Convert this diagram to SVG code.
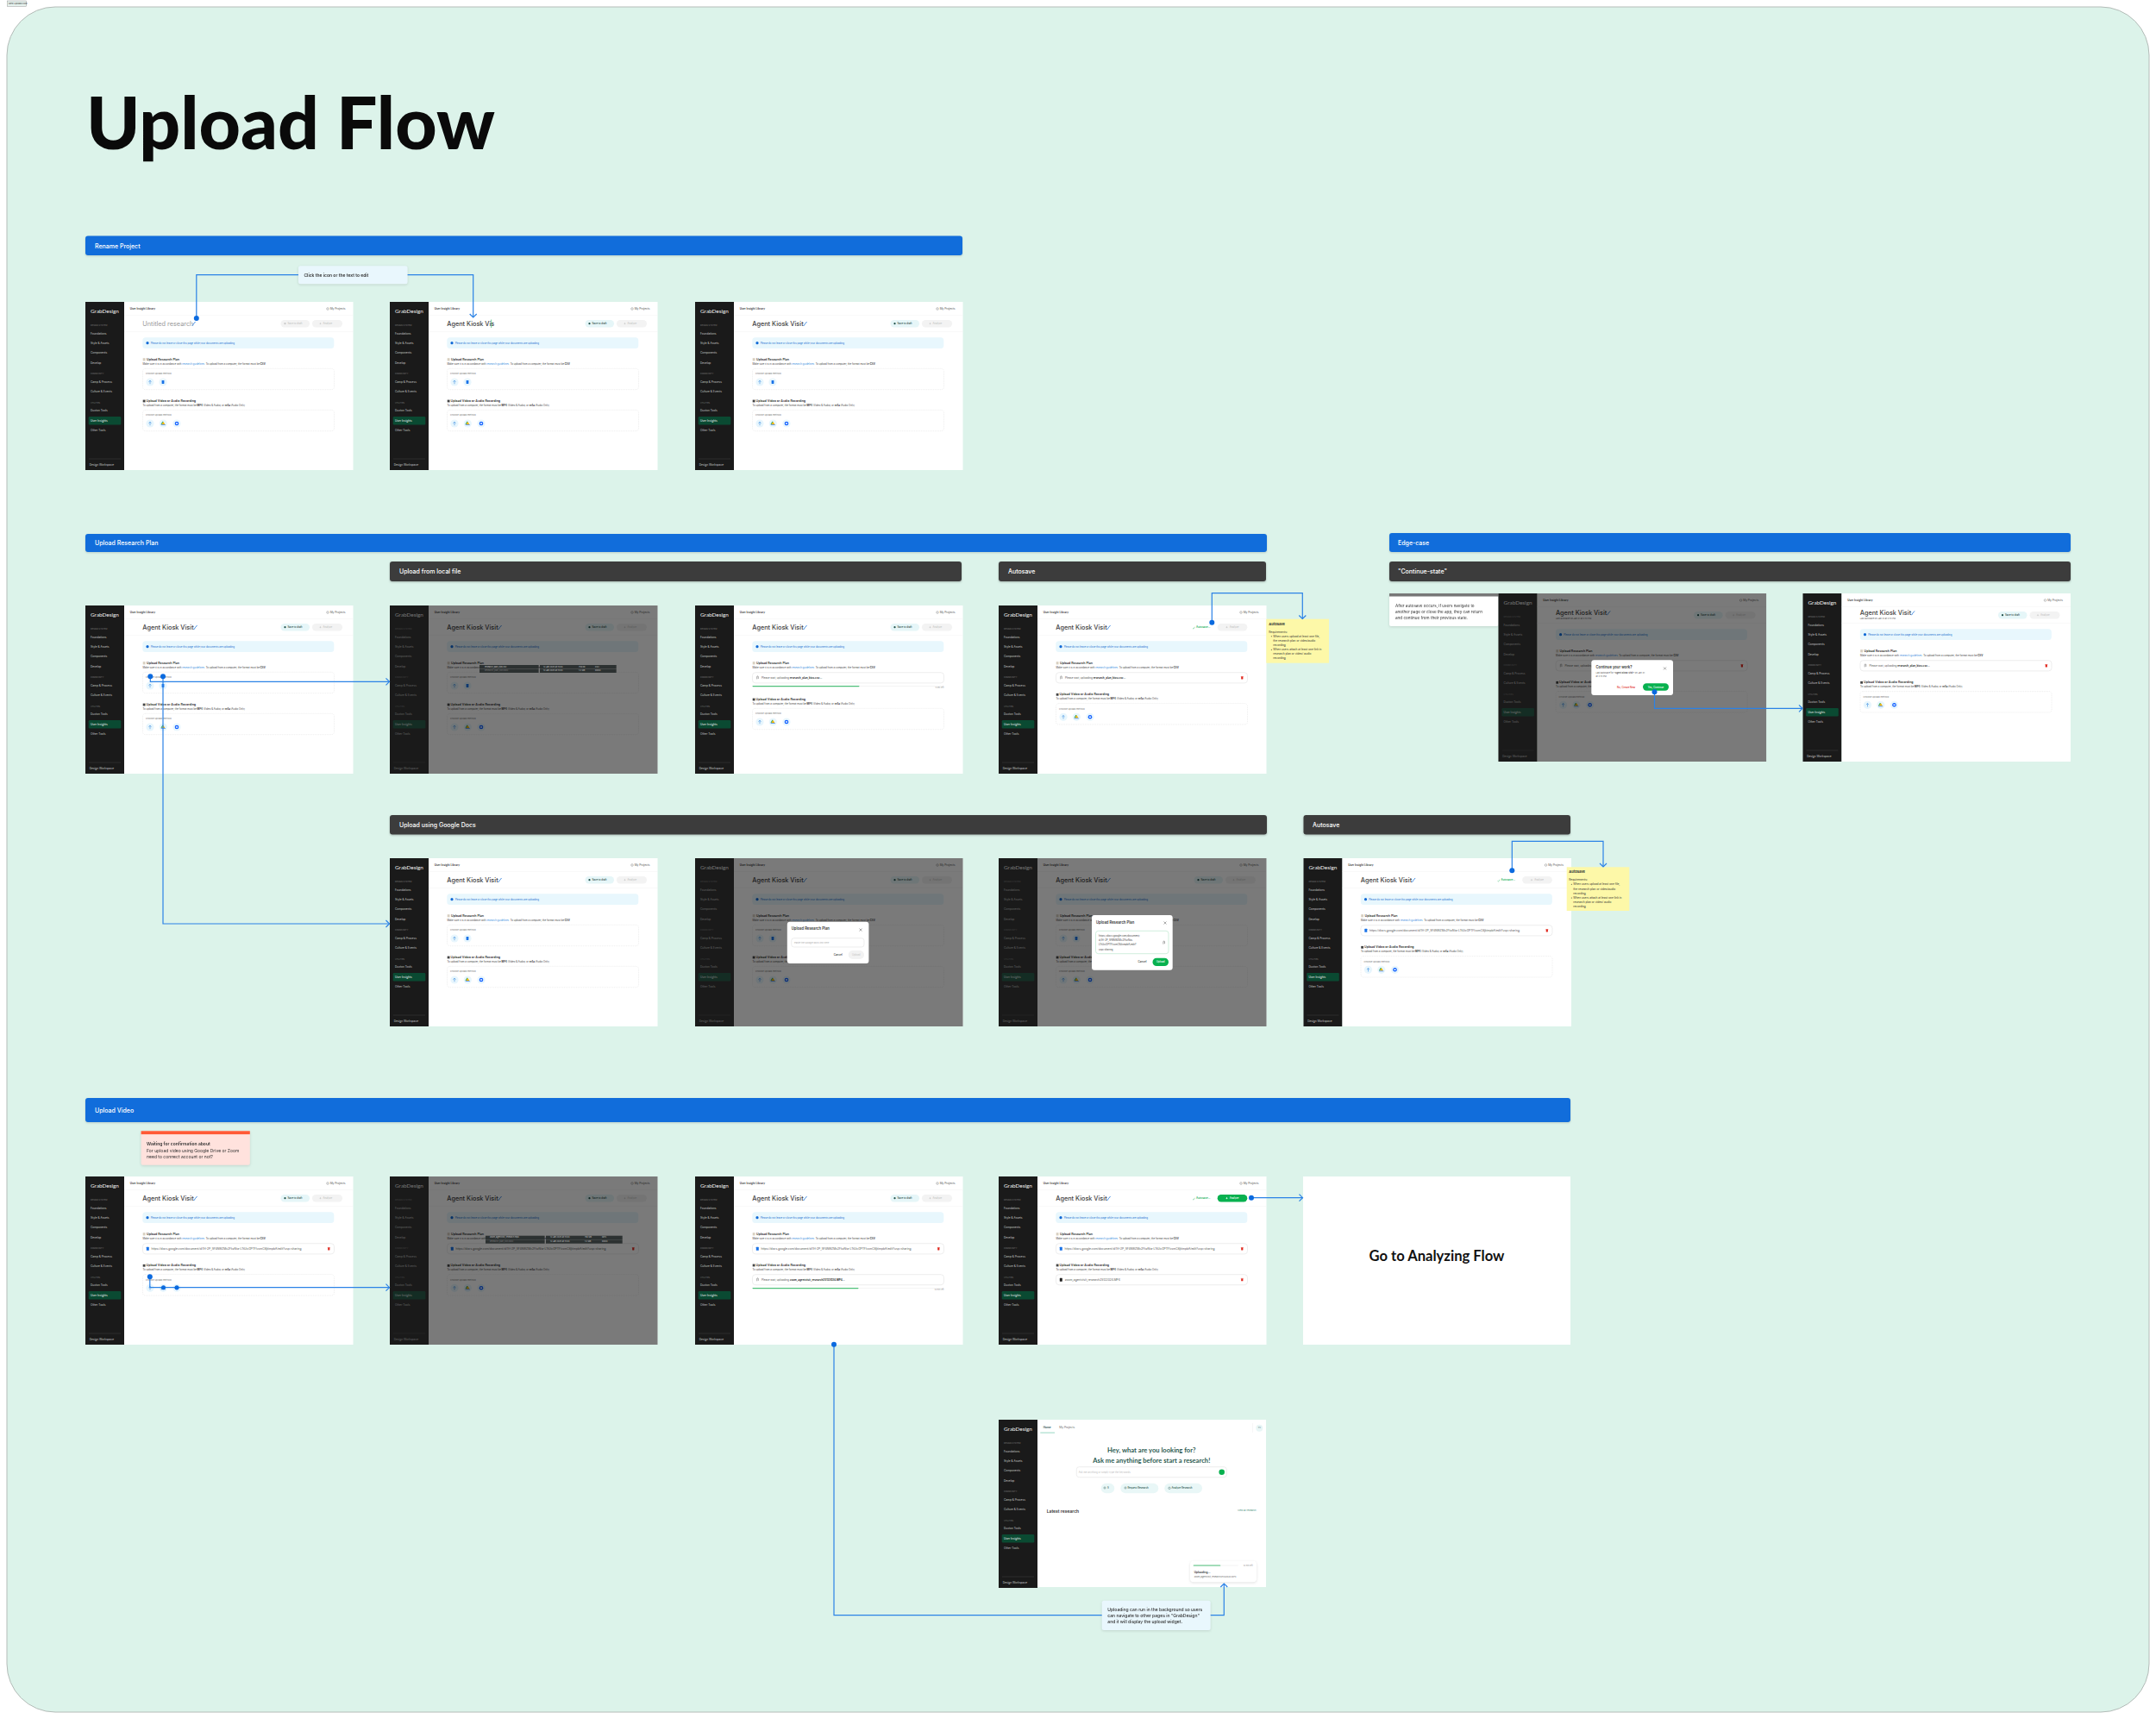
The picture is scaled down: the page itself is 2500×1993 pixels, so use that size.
<svg xmlns="http://www.w3.org/2000/svg" width="2500" height="1993" viewBox="0 0 2500 1993">
<style>
text{font-family:Inter,"Liberation Sans",sans-serif;dominant-baseline:central;fill:#333}
.br{font-family:Lato,"Noto Sans",sans-serif}
.barb{fill:#116ddb;filter:drop-shadow(0 1px 1px rgba(0,0,0,.15))}
.bard{fill:#3c3c3c;filter:drop-shadow(0 1px 1px rgba(0,0,0,.25))}
.bt{fill:#fff;font-size:7px;font-weight:500}
.sb{font-size:3.2px;fill:#c8c8c8}
.sh{font-size:2.4px;fill:#777}
.h{font-size:3.6px;font-weight:600}
.s{font-size:2.8px;fill:#444}
.b{font-weight:700}
.lnk{fill:#3b8de0}
.g{fill:#777;font-size:2.7px}
.dash{fill:#fff;stroke:#e0e0e0;stroke-width:.5;stroke-dasharray:1.2 .8}
.box{fill:#fff;stroke:#e6e6e6;stroke-width:.7}
.pl{font-size:2.8px;font-weight:500}
.con{fill:none;stroke:#2b82e6;stroke-width:1.2}
.modalt{font-size:4.2px;font-weight:600}
.pk{font-size:2.3px;fill:#c8c8c8}
.note{font-size:3.2px;fill:#333}
.card{filter:drop-shadow(0 1px 1.5px rgba(0,0,0,.12))}
</style>
<defs>
<marker id="dot" markerUnits="userSpaceOnUse" markerWidth="8" markerHeight="8" refX="4" refY="4"><circle cx="4" cy="4" r="3" fill="#0b6adf"/></marker>
<marker id="arr" markerUnits="userSpaceOnUse" markerWidth="10" markerHeight="10" refX="7" refY="5" orient="auto"><path d="M3 1L7 5L3 9" fill="none" stroke="#2b82e6" stroke-width="1.2"/></marker>
<g id="iUp"><circle r="4.6" fill="#e8f6fd"/><path d="M0 2.2V-1.8M-1.6 -.3L0 -1.8L1.6 -.3" fill="none" stroke="#3b8de0" stroke-width=".6"/></g>
<g id="iDoc"><circle r="4.6" fill="#e8f6fd"/><rect x="-1.4" y="-2" width="2.8" height="4" rx=".4" fill="#1a73e8"/></g>
<g id="iDrv"><circle r="4.6" fill="#e8f6fd"/><path d="M0 -2.2L2.2 1.2H-2.2Z" fill="#f4b400"/><path d="M-2.2 1.2L0 -2.2L-1 -2.2L-2.8 1Z" fill="#0f9d58"/><path d="M-2.2 1.2H2.2L2.8 2H-2.8Z" fill="#4285f4"/></g>
<g id="iZm"><circle r="4.6" fill="#e8f6fd"/><circle r="2.3" fill="#0b5cff"/><rect x="-1.1" y="-.7" width="2.2" height="1.4" fill="#fff"/></g>
<path id="iPen" d="M0 3.2L1.2 1.2L3.6 -1.6" fill="none" stroke="#4a90e2" stroke-width="1"/>
<g id="iTr"><rect x="-1.1" y="-1.3" width="2.2" height="2.9" rx=".3" fill="#e0261c"/><rect x="-1.5" y="-1.8" width="3" height=".5" fill="#e0261c"/></g>
<path id="iClip" d="M-.6 1.6V-1.1A.8 .8 0 0 1 1 -1.1V1.2" fill="none" stroke="#555" stroke-width=".5"/>
<g id="iStar"><path d="M0 -1.4L.4 -.4L1.4 0L.4 .4L0 1.4L-.4 .4L-1.4 0L-.4 -.4Z"/></g>
<g id="sb">
<rect width="45" height="195" fill="#1a1a1a"/>
<text class="br" x="6" y="10.7" style="font-size:6.4px;fill:#eee">GrabDesign</text>
<text class="sh" x="6" y="27.7">DESIGN SYSTEM</text>
<text class="sb" x="6" y="37">Foundations</text>
<text class="sb" x="6" y="48">Style &amp; Assets</text>
<text class="sb" x="6" y="59.3">Components</text>
<text class="sb" x="6" y="70.7">Develop</text>
<text class="sh" x="6" y="83.7">COMMUNITY</text>
<text class="sb" x="6" y="93">Camp &amp; Process</text>
<text class="sb" x="6" y="104">Culture &amp; Events</text>
<text class="sh" x="6" y="117.3">UTILITIES</text>
<text class="sb" x="6" y="126.3">Duxton Tools</text>
<rect x="3.7" y="133" width="37.6" height="9.4" rx="1.2" fill="#0a4a32"/>
<text class="sb" x="6" y="137.7" style="fill:#eee">User Insights</text>
<text class="sb" x="6" y="149">Other Tools</text>
<rect x="4" y="181.6" width="37" height=".8" fill="#333"/>
<text class="sb" x="4.7" y="188.7">Design Workspace</text>
</g>
<g id="hdr">
<rect x="45" width="265.5" height="195" fill="#fff"/>
<text x="51.7" y="8" style="font-size:3.1px;font-weight:600">User Insight Library</text>
<circle cx="281" cy="8" r="1.3" fill="none" stroke="#666" stroke-width=".4"/>
<text x="283.7" y="8" style="font-size:3.2px;fill:#555">My Projects</text>
<rect x="45" y="15.5" width="265.5" height=".4" fill="#f0f0f0"/>
</g>
<g id="body">
<rect x="45" y="34.5" width="265.5" height=".4" fill="#f0f0f0"/>
<rect x="66.3" y="41.3" width="222" height="12.7" rx="3.5" fill="#e8f7fd"/>
<circle cx="72" cy="47.7" r="1.6" fill="#1069d6"/>
<text x="75.7" y="47.7" style="font-size:2.75px;fill:#1a6fd0">Please do not leave or close this page while your documents are uploading.</text>
<rect x="66.7" y="65.2" width="2.8" height="3.2" fill="#d8cfc0"/>
<text class="h" x="71" y="66.7">Upload Research Plan</text>
<text class="s" x="66.5" y="72">Make sure it is in accordance with <tspan class="lnk">research guidelines</tspan>. To upload from a computer, the format must be <tspan class="b">CSV</tspan></text>
</g>
<g id="main"><use href="#sb"/><use href="#hdr"/><use href="#body"/></g>
<g id="ttl"><text x="66.3" y="25.3" style="font-size:7.3px;font-weight:500;fill:#444">Agent Kiosk Visit</text><use href="#iPen" x="126" y="24.6"/></g>
<g id="bSave"><rect x="226.5" y="21" width="33.5" height="8.4" rx="4.2" fill="#e6f6f8"/><circle cx="231.5" cy="25.2" r="1.1" fill="#1f4f48"/><text class="pl" x="234.5" y="25.2" style="fill:#1f3f3a">Save to draft</text></g>
<g id="bAn"><rect x="263" y="21" width="35" height="8.4" rx="4.2" fill="#f3f3f3"/><use href="#iStar" x="272.5" y="25.2" fill="#c8c8c8"/><text class="pl" x="275.5" y="25.2" style="fill:#c4c4c4">Analyze</text></g>
<g id="bAuto"><path d="M225 26.3L226 27.2L227.4 24.8" fill="none" stroke="#4fc07a" stroke-width=".5"/><text x="229" y="25.3" style="font-size:3px;font-weight:600;fill:#18b05a">Autosave...</text></g>
<g id="bAuA"><use href="#bAuto"/><rect x="253.7" y="21" width="34.6" height="8.4" rx="4.2" fill="#f3f3f3"/><use href="#iStar" x="264.5" y="25.2" fill="#c8c8c8"/><text class="pl" x="267.7" y="25.2" style="fill:#c4c4c4">Analyze</text></g>
<g id="rE"><rect class="dash" x="66.5" y="77.3" width="222" height="24.4" rx="3"/><text class="g" x="70" y="83">Choose upload method</text><use href="#iUp" x="75" y="93"/><use href="#iDoc" x="90" y="93"/></g>
<g id="vH"><rect x="66.7" y="113.6" width="2.8" height="2.8" fill="#444"/><text class="h" x="70.5" y="115">Upload Video or Audio Recording</text><text class="s" x="66.5" y="120.2">To upload from a computer, the format must be <tspan class="b">MP4</tspan> (Video &amp; Audio) or <tspan class="b">m4a</tspan> (Audio Only)</text></g>
<g id="vE"><use href="#vH"/><rect class="dash" x="66.5" y="125.3" width="222" height="24.4" rx="3"/><text class="g" x="70" y="131.3">Choose upload method</text><use href="#iUp" x="75" y="141"/><use href="#iDrv" x="90.3" y="141"/><use href="#iZm" x="106" y="141"/></g>
<g id="fUp"><rect class="box" x="66.5" y="77.7" width="222" height="12.2" rx="3.5"/><use href="#iClip" x="72.3" y="83.8"/><text x="77" y="83.8" style="font-size:3px;fill:#555">Please wait, uploading <tspan class="b" style="fill:#333">research_plan_kios.csv...</tspan></text></g>
<g id="fDoc"><rect class="box" x="66.5" y="77.7" width="222" height="12.2" rx="3.5"/><rect x="70.8" y="81.8" width="3" height="4" rx=".4" fill="#1a73e8"/><text x="76.5" y="83.8" style="font-size:3.3px;fill:#555">https://docs.google.com/document/d/1H-2P_SF8N9lZMc2FkzNta-LTtUicGPTFIvxmC6jkimpbA/edit?usp=sharing</text><use href="#iTr" x="282.3" y="83.8"/></g>
<g id="dimo"><rect x="45" width="265.5" height="195" fill="#000" opacity=".52"/><rect width="45" height="195" fill="#1a1a1a" opacity=".6"/></g>
<g id="base"><use href="#main"/><use href="#ttl"/><use href="#bSave"/><use href="#bAn"/><use href="#rE"/><use href="#vE"/></g>
<g id="auF"><use href="#main"/><use href="#ttl"/><use href="#bAuA"/><use href="#fUp"/><use href="#iTr" x="282.3" y="83.8"/><use href="#vE" y="-11.7"/></g>
<g id="doc"><use href="#main"/><use href="#ttl"/><use href="#fDoc"/></g>
<g id="yn"><text class="note" x="0" y="0" style="font-size:4px;font-weight:700">Autosave</text><text class="note" x="0" y="9.4">Requirements:</text><circle cx="3" cy="14.4" r=".5" fill="#333"/><text class="note" x="5" y="14.4">When users upload at least one file,</text><text class="note" x="5" y="19.7">the research plan or video/audio</text><text class="note" x="5" y="24.7">recording</text><circle cx="3" cy="30" r=".5" fill="#333"/><text class="note" x="5" y="30">When users attach at least one link in</text><text class="note" x="5" y="35">research plan or video/ audio</text><text class="note" x="5" y="40">recording</text></g>
<g id="pk1"><rect x="104" y="69" width="68.6" height="4.4" fill="#2c3131"/><rect x="174" y="69" width="88.7" height="4.4" fill="#2c3131"/><rect x="104" y="73.6" width="68.6" height="4.4" fill="#2c3131"/><rect x="174" y="73.6" width="88.7" height="4.4" fill="#2c3131"/><text class="pk" x="110" y="71.2">research_plan_kios.csv</text><text class="pk" x="178" y="71.2">12 Jan 2025 at 15:04</text><text class="pk" x="219" y="71.2">750 kb</text><text class="pk" x="238" y="71.2">CSV</text><text class="pk" x="110" y="75.8" style="fill:#777">Research_plan_kios.docx</text><text class="pk" x="178" y="75.8">12 Jan 2025 at 15:04</text><text class="pk" x="219" y="75.8">1.2 MB</text><text class="pk" x="238" y="75.8">DOCX</text></g>
<g id="pk2"><rect x="111" y="68.7" width="68.6" height="4.4" fill="#2c3131"/><rect x="181" y="68.7" width="88.7" height="4.4" fill="#2c3131"/><rect x="111" y="73.3" width="68.6" height="4.4" fill="#2c3131"/><rect x="181" y="73.3" width="88.7" height="4.4" fill="#2c3131"/><text class="pk" x="116" y="70.9">zoom_agentvisit_research.mp4</text><text class="pk" x="186" y="70.9">12 Jan 2025 at 15:04</text><text class="pk" x="226" y="70.9">150 MB</text><text class="pk" x="246" y="70.9">MP4</text><text class="pk" x="116" y="75.5" style="fill:#777">Research_plan_kios.docx</text><text class="pk" x="186" y="75.5">12 Jan 2025 at 15:04</text><text class="pk" x="226" y="75.5">1.2 MB</text><text class="pk" x="246" y="75.5">DOCX</text></g>
<g id="cont"><use href="#sb"/><use href="#hdr"/><use href="#body"/><text x="66.3" y="22.7" style="font-size:7.3px;font-weight:500;fill:#444">Agent Kiosk Visit</text><use href="#iPen" x="126" y="22"/><text x="66.3" y="29.7" style="font-size:2.5px;fill:#555">Last autosave on Jan 31 at 3:51 PM</text><use href="#bSave"/><use href="#bAn"/><use href="#fUp"/><use href="#iTr" x="282.3" y="83.8"/><use href="#vE" y="-11.7"/></g>
</defs>

<rect x="8" y="8" width="2484" height="1977" rx="56" fill="#dcf3ea" stroke="#b4bcb8" stroke-width="1"/>
<g id="page-label"><rect x="8.3" y="1" width="22.4" height="6.3" fill="#e6f2ee" stroke="#999" stroke-width=".5"/><text x="10" y="4.2" style="font-size:2.6px">New Upload Flow</text></g>
<text class="br" id="title" x="100" y="140" style="font-size:84px;font-weight:900;fill:#0a0a0a">Upload Flow</text>

<g id="bars">
<rect class="barb" x="99" y="273.500" width="1017" height="22.500" rx="3"/><text class="bt" x="110" y="285">Rename Project</text>
<rect class="barb" x="99" y="619" width="1370" height="21" rx="3"/><text class="bt" x="110" y="629.500">Upload Research Plan</text>
<rect class="barb" x="1611" y="618" width="790" height="22" rx="3"/><text class="bt" x="1621" y="629.500">Edge-case</text>
<rect class="bard" x="452" y="651" width="663" height="23" rx="3"/><text class="bt" x="463" y="662.500">Upload from local file</text>
<rect class="bard" x="1158" y="651" width="310" height="23" rx="3"/><text class="bt" x="1169" y="662.500">Autosave</text>
<rect class="bard" x="1611" y="651" width="790" height="23" rx="3"/><text class="bt" x="1621" y="662.500">"Continue-state"</text>
<rect class="bard" x="452" y="945" width="1017" height="22.500" rx="3"/><text class="bt" x="463" y="956">Upload using Google Docs</text>
<rect class="bard" x="1511.500" y="945" width="309.500" height="22.500" rx="3"/><text class="bt" x="1522" y="956">Autosave</text>
<rect class="barb" x="99" y="1273" width="1722" height="28" rx="3"/><text class="bt" x="110" y="1287.500">Upload Video</text>
</g>

<g id="f-rename-1" transform="translate(99 350)"><use href="#main"/><text x="66.3" y="25.3" style="font-size:7.3px;font-weight:400;fill:#999">Untitled research</text><use href="#iPen" x="124" y="24.6"/><rect x="226.500" y="21" width="33.500" height="8.400" rx="4.200" fill="#f3f3f3"/><circle cx="231.5" cy="25.2" r="1.1" fill="#c8c8c8"/><text class="pl" x="234.500" y="25.2" style="fill:#c4c4c4">Save to draft</text><use href="#bAn"/><use href="#rE"/><use href="#vE"/></g>
<g id="f-rename-2" transform="translate(452 350)"><use href="#main"/><text x="66.3" y="25.3" style="font-size:7.3px;font-weight:500;fill:#444">Agent Kiosk Vis</text><rect x="117.5" y="20.5" width=".6" height="9.500" fill="#18b05a"/><use href="#bSave"/><use href="#bAn"/><use href="#rE"/><use href="#vE"/></g>
<g id="f-rename-3" transform="translate(806 350)"><use href="#base"/></g>

<g id="f-plan-start" transform="translate(99 702)"><use href="#base"/></g>
<g id="f-plan-pick" transform="translate(452 702)"><use href="#base"/><use href="#dimo"/><use href="#pk1"/></g>
<g id="f-plan-upload" transform="translate(806 702)"><use href="#main"/><use href="#ttl"/><use href="#bSave"/><use href="#bAn"/><use href="#fUp"/><rect x="66.5" y="93.300" width="222" height=".7" fill="#f0f0f0"/><rect x="66.5" y="93" width="124" height="1.200" rx=".6" fill="#4fc07a"/><text class="g" x="288.500" y="95.500" text-anchor="end" style="font-size:2.3px;fill:#999">5 sec left</text><use href="#vE" y="-6"/></g>
<g id="f-plan-auto" transform="translate(1158 702)"><use href="#auF"/></g>
<g id="note-auto-1" transform="translate(1468.300 717.700)"><rect width="72.700" height="51" fill="#fdf8a8"/><use href="#yn" x="3" y="5.600"/></g>

<g id="note-continue" class="card" transform="translate(1611 688)"><rect width="126.600" height="38" rx="2" fill="#fff"/><rect width="126.600" height="3.500" fill="#777"/><text x="7" y="14.300" style="font-size:4.600px">After autosave occurs, if users navigate to</text><text x="7" y="21.300" style="font-size:4.600px">another page or close the app, they can return</text><text x="7" y="28" style="font-size:4.600px">and continue from their previous state.</text></g>
<g id="f-cont-modal" transform="translate(1737.600 688)"><use href="#cont"/><use href="#dimo"/><g transform="translate(-1737.600 -688)"><rect x="1845.300" y="765.300" width="94.700" height="40.700" rx="3" fill="#fff"/><text class="modalt" x="1850.500" y="773.700">Continue your work?</text><path d="M1929 773.500l3 3m0 -3l-3 3" stroke="#555" stroke-width=".5"/><text x="1850.500" y="780.300" style="font-size:2.500px;fill:#555">Last autosave for <tspan class="b">"Agent Kiosk Visit"</tspan> on Jan 31</text><text x="1850.500" y="784.700" style="font-size:2.500px;fill:#555">at 3:51 PM</text><text x="1885.600" y="796.700" text-anchor="middle" style="font-size:2.800px;font-weight:500;fill:#e0261c">No, Create New</text><rect x="1905" y="792.300" width="30" height="8.400" rx="4.200" fill="#08b14f"/><text x="1920" y="796.500" text-anchor="middle" style="font-size:2.800px;font-weight:500;fill:#fff">Yes, Continue</text></g></g>
<g id="f-cont-done" transform="translate(2090.500 688)"><use href="#cont"/></g>

<g id="f-docs-start" transform="translate(452 995)"><use href="#base"/></g>
<g id="f-docs-empty" transform="translate(806 995)"><use href="#base"/><use href="#dimo"/><g transform="translate(-806 -995)"><rect x="912.800" y="1068.700" width="94.600" height="48.300" rx="3" fill="#fff"/><text class="modalt" x="917.700" y="1076.700">Upload Research Plan</text><path d="M996.500 1076.500l3 3m0 -3l-3 3" stroke="#555" stroke-width=".5"/><rect class="box" x="917.700" y="1087.700" width="84.300" height="10.300" rx="3"/><text x="921" y="1093" style="font-size:2.700px;fill:#aaa">Paste the Google docs link here</text><text x="971.700" y="1107" text-anchor="middle" style="font-size:3px;font-weight:500">Cancel</text><rect x="983.700" y="1102" width="18.300" height="10" rx="5" fill="#f2f2f2"/><text x="992.800" y="1107" text-anchor="middle" style="font-size:2.800px;fill:#c4c4c4">Upload</text></g></g>
<g id="f-docs-link" transform="translate(1158 995)"><use href="#base"/><use href="#dimo"/><g transform="translate(-1158 -995)"><rect x="1266" y="1061" width="93.700" height="63.700" rx="3" fill="#fff"/><text class="modalt" x="1271" y="1069.300">Upload Research Plan</text><path d="M1349.500 1068.500l3 3m0 -3l-3 3" stroke="#555" stroke-width=".5"/><rect x="1270.500" y="1079.300" width="84.500" height="26.400" rx="3" fill="#fff" stroke="#bde8cf" stroke-width=".7"/><text x="1274" y="1085" style="font-size:2.800px;fill:#444">https://docs.google.com/document/</text><text x="1274" y="1090.300" style="font-size:2.800px;fill:#444">d/1H-2P_SF8N9lZMc2FkzNta-</text><text x="1274" y="1095.300" style="font-size:2.800px;fill:#444">LTtUicGPTFIvxmC6jkimpbA/edit?</text><text x="1274" y="1100.700" style="font-size:2.800px;fill:#444">usp=sharing</text><use href="#iClip" x="1349.500" y="1093"/><text x="1324.500" y="1115.300" text-anchor="middle" style="font-size:3px;font-weight:500">Cancel</text><rect x="1336.500" y="1110.700" width="18.500" height="9.300" rx="4.600" fill="#08b14f"/><text x="1345.700" y="1115.300" text-anchor="middle" style="font-size:2.800px;font-weight:500;fill:#fff">Upload</text></g></g>
<g id="f-docs-auto" transform="translate(1511.500 995)"><use href="#doc"/><use href="#bAuA"/><use href="#vE" y="-11.7"/></g>
<g id="note-auto-2" transform="translate(1816.700 1005.300)"><rect width="72.600" height="50.700" fill="#fdf8a8"/><use href="#yn" x="2.600" y="5.600"/></g>

<g id="note-wait" class="card" transform="translate(163.600 1311.300)"><rect width="126.200" height="39.400" rx="2" fill="#ffe2dd"/><rect width="126.200" height="3.800" fill="#ff5a36"/><text x="6.500" y="14.700" style="font-size:5px;font-weight:600">Waiting for confirmation about</text><text x="6.500" y="22.400" style="font-size:5px">For upload video using Google Drive or Zoom</text><text x="6.500" y="29.400" style="font-size:5px">need to connect account or not?</text></g>
<g id="f-video-start" transform="translate(99 1364)"><use href="#doc"/><use href="#bSave"/><use href="#bAn"/><use href="#vE" y="-11.7"/></g>
<g id="f-video-pick" transform="translate(452 1364)"><use href="#doc"/><use href="#bSave"/><use href="#bAn"/><use href="#vE" y="-11.7"/><use href="#dimo"/><use href="#pk2"/></g>
<g id="f-video-upload" transform="translate(806 1364)"><use href="#doc"/><use href="#bSave"/><use href="#bAn"/><use href="#vH" y="-12"/><rect class="box" x="66.500" y="113.700" width="222" height="12" rx="3.500"/><use href="#iClip" x="72.300" y="119.700"/><text x="77" y="119.700" style="font-size:3px;fill:#555">Please wait, uploading <tspan class="b" style="fill:#333">zoom_agentvisit_research25122024.MP4...</tspan></text><rect x="66.500" y="129.200" width="222" height=".7" fill="#f0f0f0"/><rect x="66.500" y="129" width="123" height="1.200" rx=".6" fill="#4fc07a"/><text class="g" x="288.500" y="131" text-anchor="end" style="font-size:2.300px;fill:#999">10 min left</text></g>
<g id="f-video-done" transform="translate(1158 1364)"><use href="#doc"/><use href="#bAuto"/><rect x="253.700" y="21" width="34.600" height="8.400" rx="4.200" fill="#08b14f"/><use href="#iStar" x="264.500" y="25.200" fill="#fff"/><text class="pl" x="267.700" y="25.200" style="fill:#fff">Analyze</text><use href="#vH" y="-12"/><rect class="box" x="66.500" y="113.700" width="222" height="12" rx="3.500"/><rect x="70.800" y="117.700" width="3" height="4" rx=".4" fill="#222"/><text x="76.700" y="119.700" style="font-size:3.300px;fill:#555">zoom_agentvisit_research25122024.MP4</text><use href="#iTr" x="282.300" y="119.700"/></g>
<g id="f-analyzing" transform="translate(1511 1364)"><rect width="310" height="195" fill="#fff"/><text class="br" x="155" y="92" text-anchor="middle" style="font-size:16.600px;font-weight:700;fill:#111">Go to Analyzing Flow</text></g>

<g id="f-home" transform="translate(1158 1646)"><use href="#sb"/><rect x="45" width="265" height="194" fill="#fff"/>
<text x="51.700" y="9.300" style="font-size:3.200px;font-weight:600;fill:#1f4f48">Home</text><text x="70.300" y="9.300" style="font-size:3.200px;fill:#666">My Projects</text><rect x="48.300" y="14.700" width="16.700" height=".7" fill="#6dc6a8"/><rect x="294.200" y="4" width=".5" height="11" fill="#eee"/><circle cx="302.300" cy="9.700" r="4" fill="#e8f6f6"/><text x="302.300" y="9.700" text-anchor="middle" style="font-size:2.200px;fill:#1f4f48">YU</text>
<text class="br" x="177.300" y="35" text-anchor="middle" style="font-size:7.600px;font-weight:700;fill:#2b5a50">Hey, what  are you looking for?</text><text class="br" x="177.300" y="47" text-anchor="middle" style="font-size:7.600px;font-weight:700;fill:#2b5a50">Ask me anything before start a research!</text>
<rect class="box" x="90.300" y="54.700" width="174" height="12" rx="3"/><text x="92.700" y="60.700" style="font-size:2.800px;fill:#bbb">Ask me anything or simply type the keywords</text><circle cx="258.700" cy="60.700" r="3.300" fill="#08b14f"/>
<rect x="118.700" y="73.700" width="15.600" height="11.600" rx="5.800" fill="#e9f7f7"/><circle cx="123" cy="79" r="1.100" fill="none" stroke="#1f4f48" stroke-width=".4"/><text class="pl" x="126" y="79.300" style="fill:#1f4f48">S</text>
<rect x="141.300" y="73.700" width="44" height="11.600" rx="5.800" fill="#e9f7f7"/><circle cx="147" cy="79" r="1.100" fill="none" stroke="#1f4f48" stroke-width=".4"/><text class="pl" x="149.500" y="79.300" style="fill:#1f4f48">Request Research</text>
<rect x="192.300" y="73.700" width="43.700" height="11.600" rx="5.800" fill="#e9f7f7"/><circle cx="198" cy="79.300" r="1.200" fill="none" stroke="#1f4f48" stroke-width=".4"/><text class="pl" x="200.500" y="79.300" style="fill:#1f4f48">Analyze Research</text>
<text x="55.700" y="106.300" style="font-size:5px;font-weight:600">Latest research</text><text x="298.700" y="104.700" text-anchor="end" style="font-size:2.700px;fill:#3c8a76">View all research</text>
<rect class="card" x="222" y="163.700" width="77" height="24.600" rx="4" fill="#fff"/><rect x="225.700" y="168.600" width="52" height=".8" fill="#efefef"/><rect x="225.700" y="168.400" width="31.600" height="1.200" rx=".6" fill="#4fc07a"/><text x="294.700" y="169" text-anchor="end" style="font-size:2.300px;fill:#999">10 min left</text><text x="226.700" y="177" style="font-size:3.200px;font-weight:600">Uploading...</text><text x="226.700" y="182" style="font-size:2.500px;fill:#666">zoom_agentvisit_research25122024.MP4</text></g>

<g id="note-click" class="card" transform="translate(346 308.300)"><rect width="126.600" height="21" rx="2.500" fill="#e9f7fd"/><text x="6.400" y="10.700" style="font-size:5px;font-weight:600">Click the icon or the text to edit</text></g>
<g id="note-bg" class="card" transform="translate(1277.700 1855.700)"><rect width="126" height="34.300" rx="2.500" fill="#e9f7fd"/><text x="6.600" y="10.300" style="font-size:5px;font-weight:500">Uploading can run in the background so users</text><text x="6.600" y="17.300" style="font-size:5px;font-weight:500">can navigate to other pages in "GrabDesign"</text><text x="6.600" y="24.300" style="font-size:5px;font-weight:500">and it will display the upload widget.</text></g>

<g id="connectors">
<path class="con" marker-start="url(#dot)" d="M227.800 369V318.700H346"/>
<path class="con" marker-end="url(#arr)" d="M472.600 318.700H548.700V368"/>
<path class="con" marker-start="url(#dot)" marker-end="url(#arr)" d="M174.300 784.300V790.300H451.500"/>
<path class="con" marker-start="url(#dot)" marker-end="url(#arr)" d="M189 784.300V1071H451.500"/>
<path class="con" marker-start="url(#dot)" marker-end="url(#arr)" d="M1405.300 721.700V687.700H1510.300V717.500"/>
<path class="con" marker-start="url(#dot)" marker-end="url(#arr)" d="M1753.300 1009.300V975.300H1859V1005"/>
<path class="con" marker-start="url(#dot)" marker-end="url(#arr)" d="M1918.500 802.300V821.300H2090"/>
<path class="con" marker-start="url(#dot)" marker-end="url(#arr)" d="M173.800 1480.300V1492.700H451.500"/>
<circle cx="189.500" cy="1492.700" r="2.500" fill="#0b6adf"/><circle cx="205" cy="1492.700" r="2.500" fill="#0b6adf"/>
<path class="con" marker-start="url(#dot)" marker-end="url(#arr)" d="M1451 1388.700H1510.500"/>
<path class="con" marker-start="url(#dot)" d="M967 1558.700V1872.700H1277.700"/>
<path class="con" marker-end="url(#arr)" d="M1403.700 1872.700H1419.300V1836"/>
</g>
</svg>
